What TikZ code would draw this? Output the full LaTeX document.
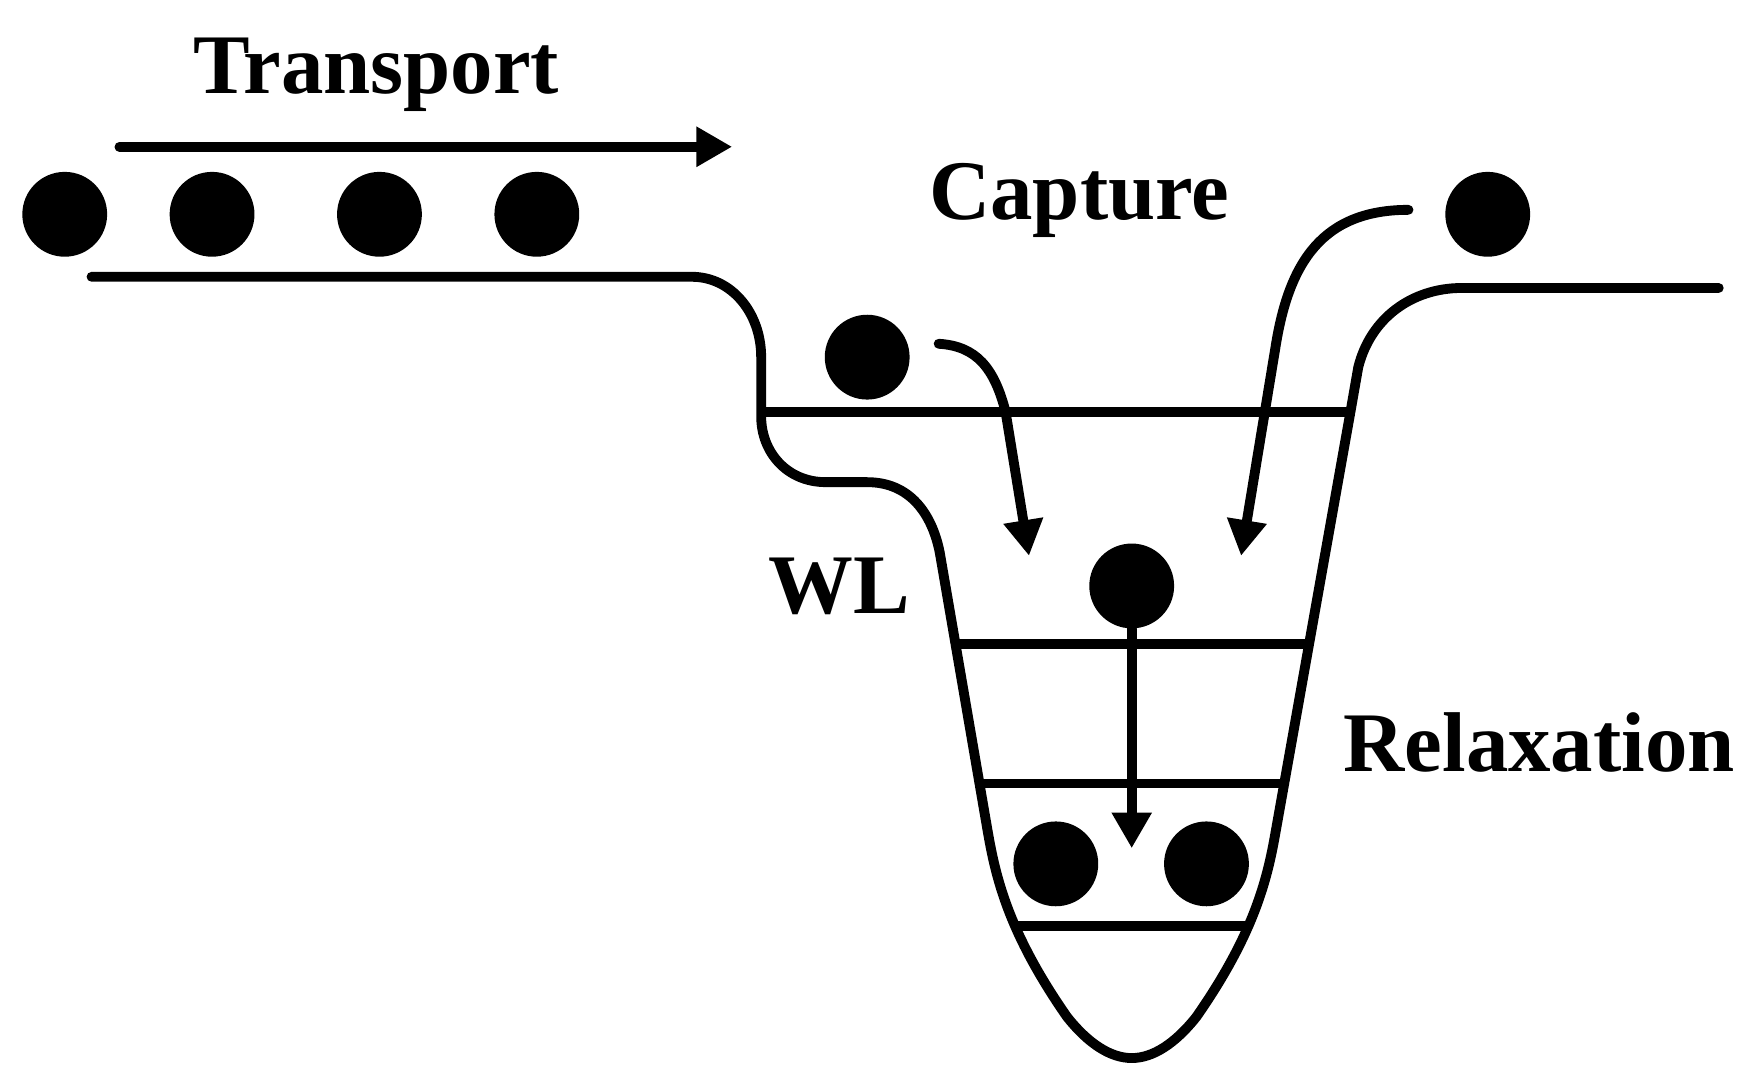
\documentclass[tikz,border=0pt]{standalone}
\usepackage{fontspec}
\setmainfont{Liberation Serif}
\usetikzlibrary{arrows.meta}
\tikzset{
  dot/.style={circle,fill=black,draw=none,minimum size=38pt,inner sep=0pt},
  lab/.style={font=\fontsize{38}{40}\selectfont\bfseries,inner sep=0pt,anchor=base},
  well/.style={line width=4.4pt,line cap=round,line join=round},
  level/.style={line width=4.4pt},
  arr/.style={line width=4.4pt,line cap=round,-{Triangle[length=16pt,width=17pt]}}
}
\begin{document}
\begin{tikzpicture}[x=0.5pt,y=-0.5pt]
\useasboundingbox (0,0) rectangle (1568,966);
\fill[white] (0,0) rectangle (1568,966);
\node[lab] (t) at (337,84) {Transport};
\node[lab] (c) at (967,197) {Capture};
\node[lab] (w) at (752,550) {WL};
\node[lab] (r) at (1379,691) {Relaxation};
\foreach \n/\x/\y in {a/58/192,b/190/192,d/340/192,e/481/192,f/1333/192,g/777/320,h/1014/525,i/946/774,j/1081/774}
  \node[dot] (\n) at (\x,\y) {};
\draw[well] (82,248) -- (620,248) .. controls (655,248) and (682,280) .. (682,320) -- (682,373)
  .. controls (682,405) and (705,432) .. (740,432) -- (777,432)
  .. controls (815,432) and (835,460) .. (842,495) -- (885,745)
  .. controls (892,785) and (903,835) .. (956,911)
  .. controls (975,935) and (995,948) .. (1014,948)
  .. controls (1033,948) and (1053,935) .. (1072,911)
  .. controls (1125,835) and (1136,785) .. (1143,745) -- (1210,369) -- (1217,329)
  .. controls (1228,285) and (1265,258) .. (1310,258) -- (1540,258);
\coordinate (l1a) at (682,369); \coordinate (l1b) at (1209,369);
\coordinate (l2a) at (856,577); \coordinate (l2b) at (1172,577);
\coordinate (l3a) at (878,702); \coordinate (l3b) at (1150,702);
\coordinate (l4a) at (908,830); \coordinate (l4b) at (1120,830);
\draw[level] (l1a) -- (l1b);
\draw[level] (l2a) -- (l2b);
\draw[level] (l3a) -- (l3b);
\draw[level] (l4a) -- (l4b);
\coordinate (ts) at (107,131.5); \coordinate (te) at (656,131.5);
\draw[arr] (ts) -- (te);
\coordinate (cs) at (841,308); \coordinate (cm) at (901,369); \coordinate (ce) at (922,498);
\draw[arr] (cs) .. controls (875,310) and (891,330) .. (cm) -- (ce);
\coordinate (ds) at (1262,188); \coordinate (dm) at (1143,310); \coordinate (de) at (1112,498);
\draw[arr] (ds) .. controls (1185,188) and (1155,235) .. (dm) -- (de);
\coordinate (re) at (1014,760);
\draw[arr] (h.south) -- (re);
\end{tikzpicture}
\end{document}
